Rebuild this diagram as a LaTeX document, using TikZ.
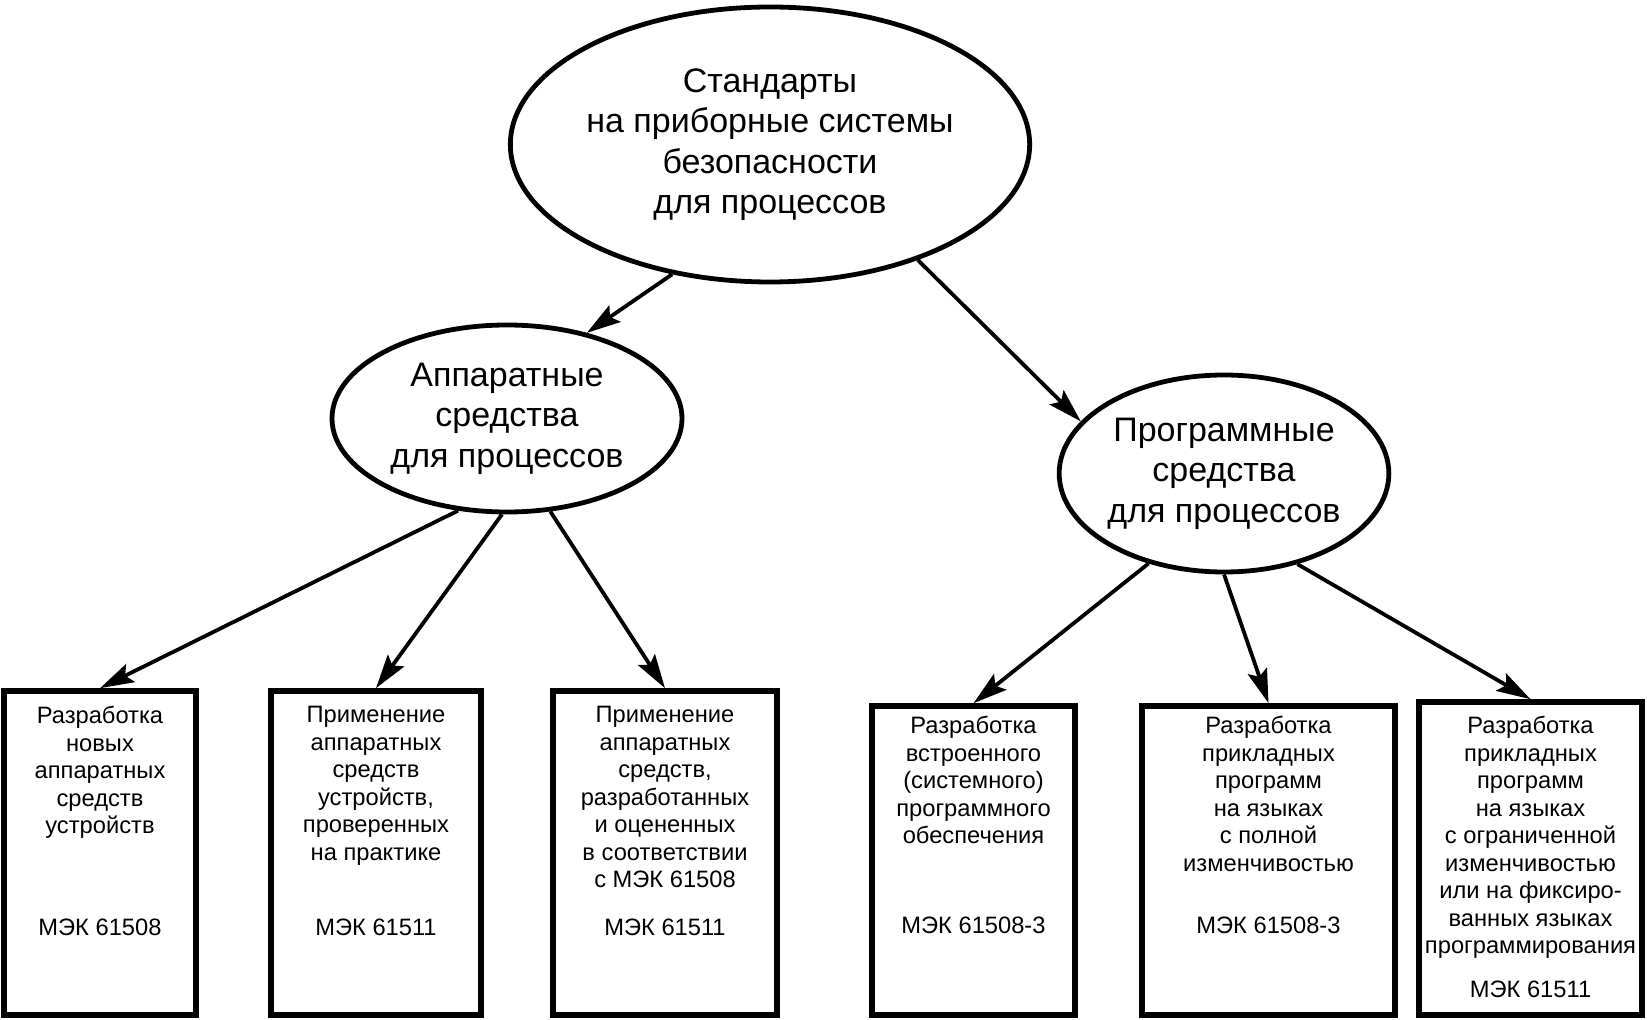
\documentclass[tikz,border=0pt]{standalone}
\usepackage{fontspec}
\setmainfont{Liberation Sans}
\usetikzlibrary{positioning, arrows.meta, shapes.geometric, calc}

\begin{document}
\begin{tikzpicture}[
    x=0.5pt, y=-0.5pt,
    oval/.style={
        ellipse,
        draw=black,
        line width=2.4pt,
        inner sep=0pt,
        align=center,
        font=\fontsize{17}{20.25}\selectfont
    },
    block/.style={
        rectangle,
        draw=black,
        line width=2.8pt,
        minimum height=154.5pt
    },
    lbl/.style={anchor=north, inner sep=0pt, align=center, font=\fontsize{11.85}{13.75}\selectfont},
    code/.style={anchor=base, inner sep=0pt, font=\fontsize{11.85}{13.75}\selectfont},
    arr/.style={-{Stealth[length=17pt, width=10pt, inset=3pt]}, line width=1.9pt}
]

\useasboundingbox (0,0) rectangle (1647,1020);

\def\ya{853}
\def\yb{860.5}

% Ellipses
\node[oval, minimum width=258pt, minimum height=137.5pt] (std) at (770,144.5) {Стандарты\\на приборные системы\\безопасности\\для процессов};
\node[oval, minimum width=175pt, minimum height=93.5pt] (hw) at (507,418.5) {Аппаратные\\средства\\для процессов};
\node[oval, minimum width=164pt, minimum height=98.5pt] (sw) at (1224,473.5) {Программные\\средства\\для процессов};

% Boxes
\node[block, minimum width=96pt, minimum height=162pt] (b1) at (100,\ya) {};
\node[block, minimum width=105pt, minimum height=162pt] (b2) at (376,\ya) {};
\node[block, minimum width=112pt, minimum height=162pt] (b3) at (665,\ya) {};
\node[block, minimum width=101.5pt] (b4) at (973.5,\yb) {};
\node[block, minimum width=126.5pt] (b5) at (1268.5,\yb) {};
\node[block, minimum width=111.5pt, minimum height=156.5pt] (b6) at (1530.5,858.5) {};

% Box texts
\node[lbl] (t1) at (100,706) {Разработка\\новых\\аппаратных\\средств\\устройств};
\node[lbl] (t2) at (376,706) {Применение\\аппаратных\\средств\\устройств,\\проверенных\\на практике};
\node[lbl] (t3) at (665,706) {Применение\\аппаратных\\средств,\\разработанных\\и оцененных\\в соответствии\\с МЭК 61508};
\node[lbl] (t4) at (973.5,716) {Разработка\\встроенного\\(системного)\\программного\\обеспечения};
\node[lbl] (t5) at (1268.5,716) {Разработка\\прикладных\\программ\\на языках\\с полной\\изменчивостью};
\node[lbl] (t6) at (1530.5,716) {Разработка\\прикладных\\программ\\на языках\\с ограниченной\\изменчивостью\\или на фиксиро-\\ванных языках\\программирования};

\node[code] (c1) at (100,935) {МЭК 61508};
\node[code] (c2) at (376,935) {МЭК 61511};
\node[code] (c3) at (665,935) {МЭК 61511};
\node[code] (c4) at (973.5,933) {МЭК 61508-3};
\node[code] (c5) at (1268.5,933) {МЭК 61508-3};
\node[code] (c6) at (1530.5,997) {МЭК 61511};

% Arrows
\draw[arr] (std.233.7) -- (hw.47.8);
\draw[arr] (std.322.5) -- (sw.160.3);
\draw[arr] (hw.242.8) -- (b1.north);
\draw[arr] (hw.267.6) -- (b2.north);
\draw[arr] (hw.295.9) -- (b3.north);
\draw[arr] (sw.230.9) -- (b4.north);
\draw[arr] (sw.270) -- (b5.north);
\draw[arr] (sw.309.9) -- (b6.north);

\end{tikzpicture}
\end{document}
